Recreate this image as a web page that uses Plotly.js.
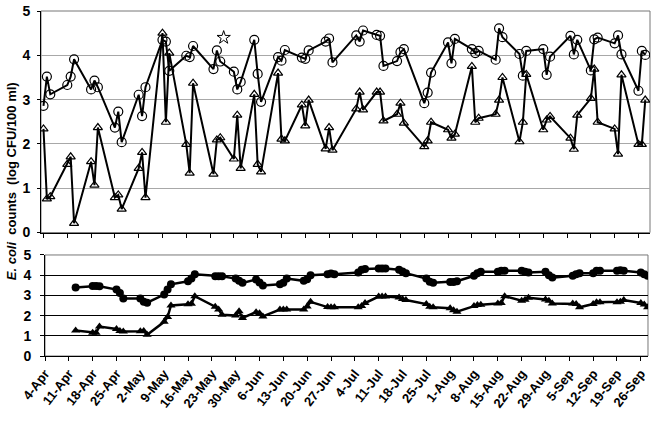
<!DOCTYPE html>
<html>
<head>
<meta charset="utf-8">
<script src="https://cdn.plot.ly/plotly-3.0.1.min.js"></script>
<style>html,body{margin:0;padding:0;background:#fff;}#chart{width:659px;height:422px;}</style>
</head>
<body>
<div id="chart"></div>
<script>
// Sampling dates (month-day), year is arbitrary
const sampleDays = ["04-04","04-05","04-06","04-11","04-12","04-13","04-18","04-19","04-20","04-25","04-26","04-27",
  "05-02","05-03","05-04","05-09","05-10","05-11","05-16","05-17","05-18","05-24","05-25","05-26","05-30","05-31",
  "06-01","06-05","06-06","06-07","06-12","06-13","06-14","06-19","06-20","06-21","06-26","06-27","06-28",
  "07-05","07-06","07-07","07-11","07-12","07-13","07-17","07-18","07-19","07-25","07-26","07-27",
  "08-01","08-02","08-03","08-08","08-09","08-10","08-15","08-16","08-17","08-22","08-23","08-24","08-29","08-30","08-31",
  "09-06","09-07","09-08","09-12","09-13","09-14","09-19","09-20","09-21","09-26","09-27","09-28"];

// Top panel: daily counts (log CFU/100 ml)
const circleSeries = [2.86,3.52,3.12,3.33,3.52,3.91,3.23,3.43,3.28,2.37,2.73,2.04,3.11,2.63,3.28,4.35,4.31,3.65,3.99,3.96,
  4.21,3.69,4.11,3.86,3.63,3.23,3.40,4.35,3.58,2.95,3.96,3.88,4.12,3.95,3.92,4.11,4.31,4.38,3.84,4.45,
  4.31,4.56,4.46,4.44,3.76,3.87,4.07,4.14,2.92,3.16,3.61,4.29,3.82,4.37,4.14,4.05,4.10,3.90,4.61,4.41,
  4.03,3.54,4.10,4.14,3.56,3.97,4.44,4.02,4.35,3.66,4.36,4.40,4.27,4.45,4.02,3.20,4.10,4.01];
const triangleSeries = [2.34,0.76,0.81,1.54,1.71,0.21,1.60,1.07,2.37,0.79,0.85,0.53,1.45,1.81,0.79,4.50,2.49,4.05,1.99,1.34,
  3.37,1.32,2.09,2.14,1.66,2.65,1.45,3.12,1.54,1.37,3.60,2.11,2.07,2.88,2.41,2.99,1.89,2.37,1.86,2.79,
  3.17,2.77,3.17,3.17,2.52,2.67,2.92,2.47,1.94,2.07,2.49,2.32,2.13,2.22,3.75,2.49,2.58,2.67,2.99,3.50,
  2.05,2.49,3.57,2.32,2.54,2.62,2.13,1.88,2.65,3.03,3.69,2.49,2.34,1.77,3.56,1.99,1.99,2.99];

// Star marker
const starDay = ["05-27"];
const starValue = [4.40];

// Bottom panel: running averages (start at 6th sampling date)
const avgStart = 5;
const circleAvg = [3.39, 3.47,3.47,3.45, 3.29,3.12,2.84, 2.84,2.68,2.64, 3.04,3.29,3.55, 3.70,3.83,4.05, 3.95,3.95,3.95,
  3.83,3.72,3.62, 3.79,3.64,3.49, 3.55,3.62,3.83, 3.72,3.80,4.00, 4.05,4.08,4.05, 4.13,4.27,4.31,
  4.33,4.33,4.33, 4.27,4.18,4.10, 3.83,3.68,3.63, 3.66,3.66,3.70, 3.97,4.10,4.17, 4.17,4.22,4.22,
  4.22,4.17,4.13, 4.17,4.00,3.88, 3.97,4.05,4.10, 4.10,4.22,4.22, 4.22,4.25,4.22, 4.13,4.05,3.97];
const triangleAvg = [1.26, 1.15,1.15,1.46, 1.34,1.24,1.21, 1.22,1.24,1.05, 1.69,1.93,2.50, 2.56,2.58,2.96, 2.44,2.30,2.04,
  2.00,2.21,1.88, 2.17,2.12,1.96, 2.30,2.30,2.30, 2.30,2.45,2.68, 2.42,2.41,2.41, 2.41,2.47,2.62,
  2.94,2.94,2.94, 2.90,2.82,2.77, 2.57,2.44,2.41, 2.36,2.27,2.19, 2.47,2.52,2.54, 2.60,2.62,2.96,
  2.74,2.78,2.88, 2.80,2.74,2.60, 2.60,2.57,2.41, 2.57,2.66,2.66, 2.66,2.68,2.77, 2.62,2.55,2.41];

const YEAR = "2000-";
const xDates = sampleDays.map(d => YEAR + d);
const avgDates = xDates.slice(avgStart);

const tickFont = {family: "Liberation Sans, Arial, sans-serif", size: 14, color: "#000", weight: "bold"};

const traces = [
  {x: xDates, y: triangleSeries, xaxis: "x", yaxis: "y", mode: "lines+markers",
   line: {color: "#000", width: 2}, marker: {symbol: "triangle-up-open", size: 8, color: "#000", line: {width: 1.2, color: "#000"}}},
  {x: xDates, y: circleSeries, xaxis: "x", yaxis: "y", mode: "lines+markers",
   line: {color: "#000", width: 2}, marker: {symbol: "circle-open", size: 9, color: "#000", line: {width: 1.2, color: "#000"}}},
  {x: starDay.map(d => YEAR + d), y: starValue, xaxis: "x", yaxis: "y", mode: "markers",
   marker: {symbol: "star-open", size: 10, color: "#000", line: {width: 1, color: "#000"}}},
  {x: avgDates, y: triangleAvg, xaxis: "x2", yaxis: "y2", mode: "lines+markers",
   line: {color: "#000", width: 2.5}, marker: {symbol: "triangle-up", size: 8, color: "#000"}},
  {x: avgDates, y: circleAvg, xaxis: "x2", yaxis: "y2", mode: "lines+markers",
   line: {color: "#000", width: 2.5}, marker: {symbol: "circle", size: 8, color: "#000"}}
];

const layout = {
  width: 659, height: 422,
  margin: {l: 41, r: 9, t: 11, b: 66},
  paper_bgcolor: "#fff", plot_bgcolor: "#fff",
  showlegend: false,
  xaxis: {type: "date", domain: [0, 1], anchor: "y",
    range: ["2000-04-03 06:30", "2000-09-29 09:30"],
    tick0: "2000-04-04", dtick: 7 * 86400000, tickformat: "%-d-%b",
    showticklabels: false, ticks: "outside", ticklen: 4, tickcolor: "#000",
    showgrid: false, showline: true, linecolor: "#000", linewidth: 1, zeroline: false},
  yaxis: {domain: [0.3577, 1], anchor: "x", range: [0, 5], dtick: 1,
    showgrid: true, gridcolor: "#a8a8a8", gridwidth: 1, zeroline: false,
    showline: true, linecolor: "#000", linewidth: 1, ticks: "outside", ticklen: 3, tickcolor: "#000",
    tickfont: tickFont, ticklabelstandoff: 4},
  xaxis2: {type: "date", domain: [0.00657, 0.9967], anchor: "y2",
    range: ["2000-04-04", "2000-09-28 02:30"],
    tick0: "2000-04-04", dtick: 7 * 86400000, tickformat: "%-d-%b", tickangle: -52,
    ticks: "outside", ticklen: 4, tickcolor: "#000",
    tickfont: {family: "Liberation Sans, Arial, sans-serif", size: 13, color: "#000", weight: "bold"},
    showgrid: false, showline: true, linecolor: "#000", linewidth: 1, zeroline: false},
  yaxis2: {domain: [0, 0.2928], anchor: "x2", range: [0, 5], dtick: 1,
    showgrid: true, gridcolor: "#000", gridwidth: 1.3, zeroline: false,
    showline: true, linecolor: "#000", linewidth: 1, ticks: "outside", ticklen: 4, tickcolor: "#000",
    tickfont: tickFont, ticklabelstandoff: 6},
  shapes: [
    {type: "rect", xref: "x domain", yref: "y domain", x0: 0, x1: 1, y0: 0, y1: 1,
     line: {color: "#777", width: 1}, fillcolor: "rgba(0,0,0,0)", layer: "below"},
    {type: "rect", xref: "x2 domain", yref: "y2 domain", x0: 0, x1: 1, y0: 0, y1: 1,
     line: {color: "#777", width: 1}, fillcolor: "rgba(0,0,0,0)", layer: "below"}
  ],
  annotations: [
    {text: "<i>E. coli</i>  counts  (log CFU/100 ml)", xref: "paper", yref: "paper",
     x: -0.049, y: 0.507, xanchor: "center", yanchor: "middle", textangle: -90, showarrow: false,
     font: {family: "Liberation Sans, Arial, sans-serif", size: 13, color: "#000", weight: "bold"}}
  ]
};

Plotly.newPlot("chart", traces, layout, {displayModeBar: false, staticPlot: true});
</script>
</body>
</html>
